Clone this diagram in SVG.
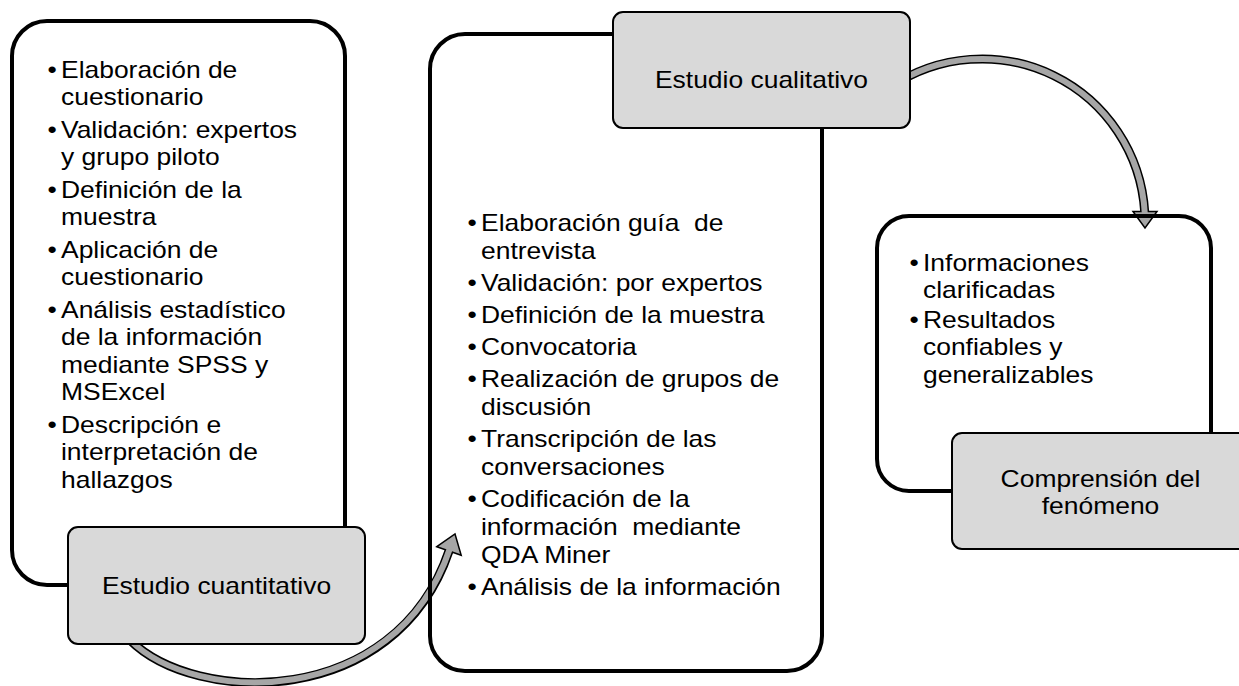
<svg xmlns="http://www.w3.org/2000/svg" width="1239" height="686" viewBox="0 0 1239 686">
<style>
.big{fill:none;stroke:#000;stroke-width:4}
.lbl{fill:#d9d9d9;stroke:#000;stroke-width:2}
.t{font-family:"Liberation Sans",Arial,sans-serif;font-size:23px;fill:#000}
.c{text-anchor:middle}
.bo{fill:none;stroke:#000;stroke-width:9}
.bf{fill:none;stroke:#a6a6a6;stroke-width:6}
.head{fill:#a6a6a6;stroke:#000;stroke-width:1.5;stroke-linejoin:miter}
</style>
<rect width="1239" height="686" fill="#fff"/>
<g id="connectors">
  <g id="arrow-cuanti-to-cuali">
    <path class="bo" d="M130 640 C195 705 395 710 449 551"/>
    <polygon class="head" points="436.8,546.7 455,534 461.2,555.3"/>
    <path class="bf" d="M130 640 C195 705 395 710 449.5 549.5"/>
  </g>
  <g id="arrow-cuali-to-comp">
    <path class="bo" d="M890 87.4 A163 163 0 0 1 1144.7 212"/>
    <polygon class="head" points="1133,211.5 1157,211.5 1145,228"/>
    <path class="bf" d="M890 87.4 A163 163 0 0 1 1144.8 213.5"/>
  </g>
</g>
<g id="node-cuanti-list">
  <rect class="big" x="12" y="21" width="333" height="564" rx="35"/>
  <text class="t" transform="matrix(1.15 0 0 1 61 0)">
    <tspan x="-11.8" y="78">•</tspan><tspan x="0" y="78">Elaboración de</tspan>
    <tspan x="0" y="105.5">cuestionario</tspan>
    <tspan x="-11.8" y="138">•</tspan><tspan x="0" y="138">Validación: expertos</tspan>
    <tspan x="0" y="165.5">y grupo piloto</tspan>
    <tspan x="-11.8" y="198">•</tspan><tspan x="0" y="198">Definición de la</tspan>
    <tspan x="0" y="225.5">muestra</tspan>
    <tspan x="-11.8" y="258">•</tspan><tspan x="0" y="258">Aplicación de</tspan>
    <tspan x="0" y="285.5">cuestionario</tspan>
    <tspan x="-11.8" y="318">•</tspan><tspan x="0" y="318">Análisis estadístico</tspan>
    <tspan x="0" y="345.5">de la información</tspan>
    <tspan x="0" y="373">mediante SPSS y</tspan>
    <tspan x="0" y="400.5">MSExcel</tspan>
    <tspan x="-11.8" y="433">•</tspan><tspan x="0" y="433">Descripción e</tspan>
    <tspan x="0" y="460.5">interpretación de</tspan>
    <tspan x="0" y="488">hallazgos</tspan>
  </text>
</g>
<g id="node-cuanti-title">
  <rect class="lbl" x="68" y="527" width="297" height="117" rx="10"/>
  <text class="t c" transform="matrix(1.15 0 0 1 216.5 0)" x="0" y="594">Estudio cuantitativo</text>
</g>
<g id="node-cuali-list">
  <rect class="big" x="430" y="34" width="392" height="637" rx="35"/>
  <text class="t" transform="matrix(1.15 0 0 1 481 0)" xml:space="preserve"><tspan x="-11.8" y="231">•</tspan><tspan x="0" y="231">Elaboración guía  de</tspan><tspan x="0" y="259">entrevista</tspan><tspan x="-11.8" y="291">•</tspan><tspan x="0" y="291">Validación: por expertos</tspan><tspan x="-11.8" y="323">•</tspan><tspan x="0" y="323">Definición de la muestra</tspan><tspan x="-11.8" y="355">•</tspan><tspan x="0" y="355">Convocatoria</tspan><tspan x="-11.8" y="387">•</tspan><tspan x="0" y="387">Realización de grupos de</tspan><tspan x="0" y="415">discusión</tspan><tspan x="-11.8" y="447">•</tspan><tspan x="0" y="447">Transcripción de las</tspan><tspan x="0" y="475">conversaciones</tspan><tspan x="-11.8" y="507">•</tspan><tspan x="0" y="507">Codificación de la</tspan><tspan x="0" y="535">información  mediante</tspan><tspan x="0" y="563">QDA Miner</tspan><tspan x="-11.8" y="595">•</tspan><tspan x="0" y="595">Análisis de la información</tspan></text>
</g>
<g id="node-cuali-title">
  <rect class="lbl" x="613" y="12" width="297" height="116" rx="10"/>
  <text class="t c" transform="matrix(1.15 0 0 1 761.5 0)" x="0" y="88">Estudio cualitativo</text>
</g>
<g id="node-result-list">
  <rect class="big" x="877" y="216" width="334" height="275" rx="32"/>
  <text class="t" transform="matrix(1.15 0 0 1 923 0)">
    <tspan x="-11.8" y="271">•</tspan><tspan x="0" y="271">Informaciones</tspan>
    <tspan x="0" y="298">clarificadas</tspan>
    <tspan x="-11.8" y="328">•</tspan><tspan x="0" y="328">Resultados</tspan>
    <tspan x="0" y="355">confiables y</tspan>
    <tspan x="0" y="383">generalizables</tspan>
  </text>
</g>
<g id="node-comp-title">
  <rect class="lbl" x="952" y="433" width="297" height="116" rx="10"/>
  <text class="t c" transform="matrix(1.15 0 0 1 1100.5 0)"><tspan x="0" y="487">Comprensión del</tspan><tspan x="0" y="514">fenómeno</tspan></text>
</g>
</svg>
